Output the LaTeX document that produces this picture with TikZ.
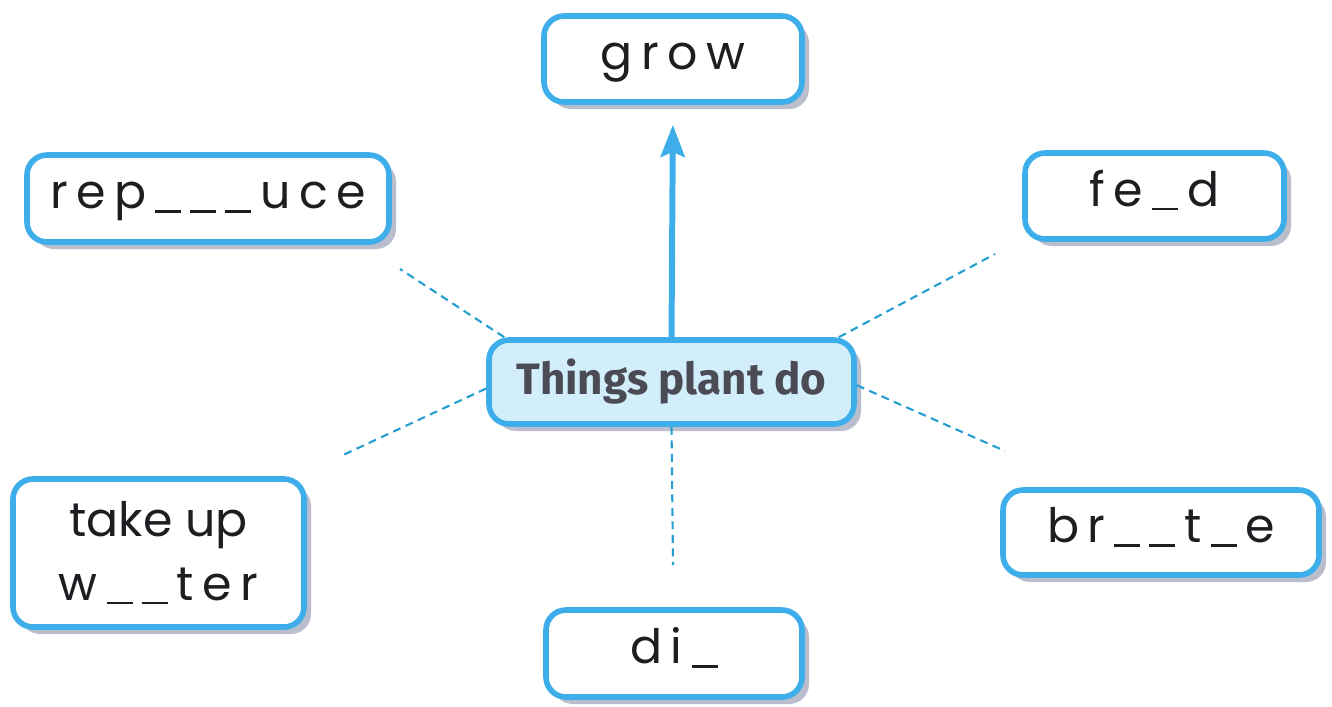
\documentclass[tikz,border=0pt]{standalone}
\usepackage{fontspec}
\setmainfont{Poppins}
\newfontfamily\spaced[LetterSpace=18]{Poppins}
\newfontfamily\hubfont{Fira Sans}
\usetikzlibrary{arrows.meta,shadows}
\definecolor{boxblue}{RGB}{62,174,234}
\definecolor{dashblue}{RGB}{38,158,208}
\definecolor{hubfill}{RGB}{210,238,250}
\definecolor{shadowgrey}{RGB}{186,190,204}
\definecolor{inkgrey}{RGB}{30,30,34}
\definecolor{hubink}{RGB}{75,75,85}
\newcommand{\blank}{\rule[-1.2pt]{0.26cm}{0.7pt}}
\newcommand{\bgap}{\hspace{0.09cm}}
\tikzset{
  word/.style={draw=boxblue, line width=1.6pt, rounded corners=0.2cm, fill=white,
    text=inkgrey, font=\spaced\fontsize{13.5}{18}\selectfont, align=center, inner sep=0pt,
    drop shadow={shadow xshift=0.07cm, shadow yshift=-0.07cm, fill=shadowgrey, opacity=1}},
  shortword/.style={word, text height=0.3cm, text depth=0.1cm},
  hub/.style={word, fill=hubfill, text=hubink, font=\hubfont\bfseries\fontsize{12.5}{15}\selectfont},
  dashline/.style={draw=dashblue, line width=0.6pt, dash pattern=on 0.8mm off 0.55mm},
  growarrow/.style={draw=boxblue, line width=1.7pt, shorten >=0.2cm,
    -{Stealth[length=3.2mm, width=2.4mm, inset=0.5mm]}}
}
\begin{document}
\begin{tikzpicture}
  \useasboundingbox (0,0) rectangle (13.32,-7.06);
  \draw
    (6.73,-0.59) node[shortword, minimum width=2.58cm, minimum height=0.86cm] (grow) {grow}
    (2.08,-1.985) node[shortword, minimum width=3.62cm, minimum height=0.87cm] (reproduce) {rep\bgap\blank\bgap\blank\bgap\blank\bgap uce}
    (11.545,-1.96) node[shortword, minimum width=2.59cm, minimum height=0.86cm] (feed) {fe\bgap\blank\bgap d}
    (6.715,-3.82) node[hub, minimum width=3.65cm, minimum height=0.84cm] (things) {Things plant do}
    (1.585,-5.53) node[word, minimum width=2.91cm, minimum height=1.48cm] (water) {{\rmfamily take up}\\w\bgap\blank\bgap\blank\bgap ter}
    (11.61,-5.325) node[shortword, minimum width=3.16cm, minimum height=0.85cm] (breathe) {br\bgap\blank\bgap\blank\bgap t\bgap\blank\bgap e}
    (6.74,-6.535) node[shortword, minimum width=2.56cm, minimum height=0.87cm] (die) {di\bgap\blank};
  \coordinate (ul) at (4.00,-2.69);
  \coordinate (ll) at (3.43,-4.55);
  \coordinate (ur) at (9.95,-2.54);
  \coordinate (lr) at (10.05,-4.51);
  \coordinate (dn) at (6.73,-5.65);
  \begin{scope}[dashline]
    \draw (things.165) -- (ul);
    \draw (things.182) -- (ll);
    \draw (things.15) -- (ur);
    \draw (things.-1) -- (lr);
    \draw (things.south) -- (dn);
  \end{scope}
  \draw[growarrow] (things.north) -- (grow.south);
\end{tikzpicture}
\end{document}
